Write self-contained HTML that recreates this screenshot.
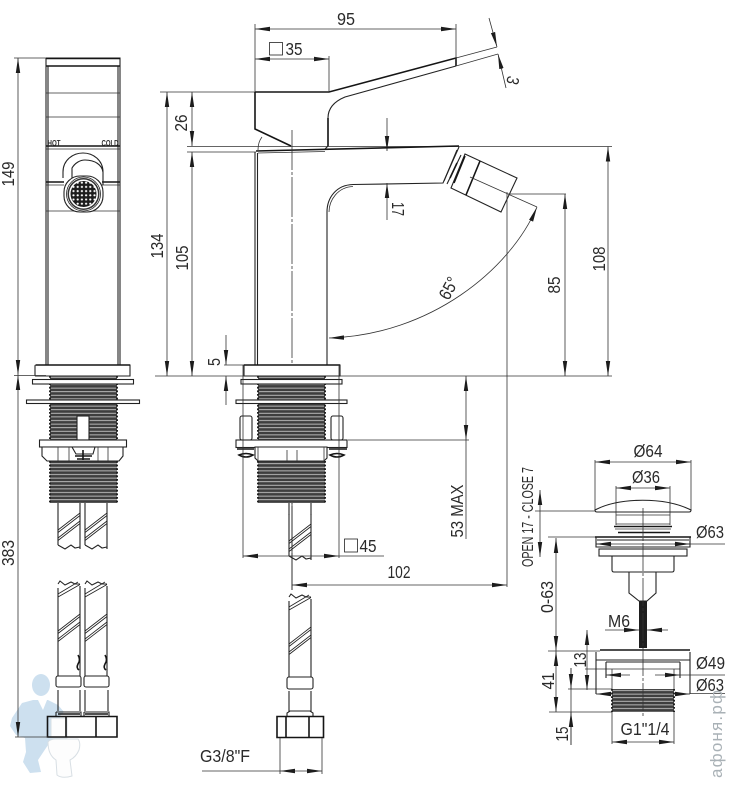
<!DOCTYPE html>
<html><head><meta charset="utf-8"><style>
html,body{margin:0;padding:0;background:#fff;width:731px;height:788px;overflow:hidden}
svg{display:block}
text{font-family:"Liberation Sans",sans-serif;font-size:17.5px;fill:#2a2a2a;text-anchor:middle}
.t{stroke:#333;stroke-width:.8;fill:none}
.d{stroke:#333;stroke-width:.8;fill:none;marker-start:url(#a);marker-end:url(#a)}
.e{stroke:#333;stroke-width:.8;fill:none;marker-end:url(#a)}
.o{stroke:#222;stroke-width:1.1;fill:none}
.k{stroke:#151515;stroke-width:1.6;fill:none}
.w{stroke:#222;stroke-width:1.1;fill:#fff}
.c{stroke:#222;stroke-width:.8;fill:none}
</style></head><body>
<svg width="731" height="788" viewBox="0 0 731 788" xmlns="http://www.w3.org/2000/svg">
<defs>
<marker id="a" markerUnits="userSpaceOnUse" markerWidth="16" markerHeight="6" refX="15" refY="3" orient="auto-start-reverse"><path d="M15 3L0 .8V5.200z" fill="#1c1c1c"/></marker>
<pattern id="th" patternUnits="userSpaceOnUse" width="10" height="3.6"><rect width="10" height="3.6" fill="#3e3e3e"/><rect y="2.500" width="10" height=".8" fill="#d4d4d4"/></pattern>
<pattern id="dots" patternUnits="userSpaceOnUse" width="4.2" height="4.2"><rect width="4.2" height="4.2" fill="#1c1c1c"/><circle cx="2.1" cy="2.1" r="1.1" fill="#fff"/></pattern>
<g id="pu"><path class="o" d="M58 503V545M80 503V549"/><path class="o" d="M58 545L65 549L71 545L75 548L80 547"/><path class="c" d="M58 530L80 513M58 532.500L80 515.500M58 538L80 521M58 540.500L80 523.500"/></g>
<g id="pl"><path class="o" d="M58 588V650M80 586V650"/><path class="o" d="M58 584L60 581L65 585L71 582L75 584L80 584"/><path class="c" d="M58 594L78 582M58 597L80 584.500M58 631L80 614M58 633.500L80 616.500M58 639L80 622M58 641.500L80 624.500"/></g>
</defs>

<!-- mascot -->
<g>
<path fill="#cde0ef" d="M33 700L22 703L12 718L10 726L16 735L25 738L26 752L23 762L30 773L41 772L38 760L48 745L57 738L60 716L64 712L58 705L48 700Z"/>
<ellipse cx="41" cy="685" rx="9" ry="11" fill="#cde0ef"/>
<path d="M37 698L47 700L43 710Z" fill="#fff"/>
<path d="M51 738V718H67V738ZM48 742Q50 739 56 739H78Q81 743 79 750Q76 757 70 760L72 776Q62 779 57 775L56 760Q48 755 48 742Z" fill="#fdfdfd" stroke="#d8dfe4" stroke-width="1"/>
</g>

<!-- LEFT VIEW -->
<path class="o" d="M46 58H120V365M46 58V365M48 66V365M118 66V365" />
<path class="k" d="M46 58.500H120M46 66H120"/>
<path class="t" d="M46 93H120M46 117H120M46 149H120M46 211H120"/>
<path class="k" d="M46 146H120M46 182H64M102 182H120" stroke-width="1.2"/>
<path class="t" d="M46 185H64M102 185H120"/>
<text x="54" y="146" style="font-size:8.500px;font-weight:bold" textLength="13" lengthAdjust="spacingAndGlyphs">HOT</text>
<text x="110" y="146" style="font-size:8.500px;font-weight:bold" textLength="17" lengthAdjust="spacingAndGlyphs">COLD</text>
<path class="o" d="M63 178V172C63 160 73 153 83 153C93 153 103 160 103 172V185"/>
<path class="o" d="M72 178V168C75 163 80 160 85 160C95 160 102 165 103 172"/>
<rect x="64" y="176" width="39" height="36" rx="16" class="w"/>
<circle cx="83.500" cy="194" r="17" class="c"/><circle cx="83.500" cy="194" r="16" fill="#333"/>
<circle cx="83.500" cy="194" r="14.500" fill="#fff"/><circle cx="83.500" cy="194" r="13" fill="url(#dots)"/>

<path class="w" d="M35 366Q35 365 36 365H130V376H36Q35 376 35 375Z"/>
<path class="k" d="M36 365H130" stroke-width="1.600"/>
<rect x="50" y="376" width="67" height="64" fill="url(#th)"/>
<rect x="50" y="461" width="67" height="42" fill="url(#th)"/>
<path d="M50 376V440M117 376V440M50 461V503M117 461V503" stroke="#222" stroke-width="2" stroke-dasharray="1.800 1.800" fill="none"/>
<rect x="32.500" y="379.500" width="101" height="4.500" class="w"/>
<rect x="26.500" y="400" width="113" height="3.500" class="w"/>
<rect x="77" y="416" width="12" height="24" class="w"/>
<rect x="39.500" y="440" width="87" height="7" class="w"/>
<path class="w" d="M42 447H123V456L119 461H47L42 456Z"/>
<path class="t" d="M58 447V461M69 447V461M98 447V461M108 447V461"/>
<path class="w" d="M72 447H95L93 454H76Z"/>
<path class="k" d="M75 456H92M77 459H90M83 450V460" stroke-width="1.300"/>
<use href="#pu"/><use href="#pu" x="27"/>
<use href="#pl"/><use href="#pl" x="27"/>
<path class="o" d="M58 650V676M80 650V676M85 650V676M107 650V676"/>
<path d="M78 655Q81 660 78 664Q76 668 79 670M105 655Q108 660 105 664Q103 668 106 670" class="k" stroke-width="1.200"/>
<rect x="56" y="676" width="25" height="11" rx="2" class="w"/><rect x="84" y="676" width="25" height="11" rx="2" class="w"/>
<path class="o" d="M58 690V711M80 690V711M85 690V711M108 690V711"/>
<path class="o" d="M56 712H81V716M84 712H109V716M56 712V716M84 712V716"/>
<path class="k" d="M58 714H80M85 714H108" stroke-width="1.300"/>
<path class="k" d="M47.500 716.500H117V737H47.500ZM66 716.500V737M96 716.500V737" stroke-width="1.400"/>

<path class="d" d="M18 58V375"/><path class="d" d="M18 375V737"/>
<path class="t" d="M14 58H46M14 375.500H46M15 737H48"/>
<text transform="translate(14,174) rotate(-90)" textLength="25" lengthAdjust="spacingAndGlyphs">149</text>
<text transform="translate(14,553) rotate(-90)" textLength="26" lengthAdjust="spacingAndGlyphs">383</text>

<!-- MIDDLE VIEW base -->
<path class="t" d="M160 92H256M187 146.500H612M187 152H256M155 376H612"/>
<path class="d" d="M167 92V376"/>
<path class="d" d="M192 92V146"/><path class="d" d="M192 152V376"/>
<text transform="translate(163,246) rotate(-90)" textLength="25" lengthAdjust="spacingAndGlyphs">134</text>
<text transform="translate(187,123) rotate(-90)" textLength="17" lengthAdjust="spacingAndGlyphs">26</text>
<text transform="translate(188,258) rotate(-90)" textLength="25" lengthAdjust="spacingAndGlyphs">105</text>
<path class="t" d="M224 365H244"/>
<path class="e" d="M226 335V365"/><path class="e" d="M226 405V376"/>
<text transform="translate(220,362) rotate(-90)" textLength="8" lengthAdjust="spacingAndGlyphs">5</text>

<!-- handle -->
<path class="k" d="M255 92H329L456 58V66M255 92V129L291 146" stroke-width="1.300"/>
<path class="o" d="M456 66L345 97Q328 104 328 118V146L325 149"/>
<path class="k" d="M328 118V146" stroke-width="1.300"/>
<path class="t" d="M258 150Q258 142 262 137"/>
<!-- body -->
<path class="k" d="M256 151L459 146" stroke-width="1.200"/><path class="t" d="M258 153L325 151.500"/>
<path class="o" d="M459 147L443 183L353 184.500C336 185 327 198 327 212V365"/>
<path class="t" d="M329 212C329 200 338 187 353 186.500"/>
<path class="o" d="M255 152V365M257.500 153V365"/>
<!-- aerator -->
<path class="o" d="M457 150L444 181M461 155L447 184"/>
<path class="k" d="M457 163L450 178" stroke-width="2.500"/>
<path class="w" d="M465 154L517 178L501 212L451 188Z"/>
<path class="k" d="M465 156L454 183" stroke-width="2.300"/>
<path class="k" d="M480 161L466 195" stroke-width="1.300"/>
<path class="t" d="M470 177L537 207"/>
<!-- centre -->
<path class="t" d="M292 130V590" stroke-dasharray="40 2 3 2"/>
<!-- top dims -->
<path class="t" d="M255 24V92M456 24V60M329 56V92"/>
<path class="d" d="M255 29H456"/><path class="d" d="M255 59H329"/>
<text x="346" y="25" textLength="18" lengthAdjust="spacingAndGlyphs">95</text>
<rect x="269.500" y="42.500" width="13" height="12.500" class="c"/>
<text x="294" y="55" textLength="17" lengthAdjust="spacingAndGlyphs">35</text>
<path class="t" d="M456 58L497 47M456 66L498 54"/>
<path class="e" d="M489 18L497 47"/><path class="e" d="M506 88L498 54"/>
<text transform="translate(507,79) rotate(104)" textLength="8" lengthAdjust="spacingAndGlyphs">3</text>
<path class="e" d="M387 118V151"/><path class="e" d="M387 220V183"/>
<text transform="translate(392,209) rotate(90)" textLength="14" lengthAdjust="spacingAndGlyphs">17</text>
<!-- right dims -->
<path class="t" d="M508 194H566"/>
<path class="d" d="M565 194V376"/><path class="d" d="M608 146.500V376"/>
<text transform="translate(560,285) rotate(-90)" textLength="17" lengthAdjust="spacingAndGlyphs">85</text>
<text transform="translate(605,259) rotate(-90)" textLength="25" lengthAdjust="spacingAndGlyphs">108</text>
<path class="t" d="M507 192V587"/>
<path class="d" d="M537 207C510 270 430 335 329 338"/>
<text transform="translate(454,291) rotate(-62)" textLength="23" lengthAdjust="spacingAndGlyphs">65°</text>
<path class="d" d="M292 585H507"/>
<text x="399" y="578" textLength="23" lengthAdjust="spacingAndGlyphs">102</text>
<path class="t" d="M348 440H469"/>
<path class="d" d="M466 376V440"/><path class="t" d="M466 440V539"/>
<text transform="translate(463,511) rotate(-90)" textLength="53" lengthAdjust="spacingAndGlyphs">53 MAX</text>

<!-- middle lower assembly -->
<rect x="258" y="376" width="67" height="64" fill="url(#th)"/>
<rect x="258" y="461" width="67" height="42" fill="url(#th)"/>
<path d="M258 376V440M325 376V440M258 461V503M325 461V503" stroke="#222" stroke-width="2" stroke-dasharray="1.800 1.800" fill="none"/>
<path class="w" d="M244 365H340V376H244Z"/><path class="k" d="M244 365H340" stroke-width="1.600"/>
<rect x="241" y="379.500" width="101" height="4.500" class="w"/>
<rect x="236" y="400" width="111" height="3.500" class="w"/>
<rect x="240" y="416" width="12" height="24" rx="2" class="w"/><rect x="331" y="416" width="12" height="24" rx="2" class="w"/>
<rect x="236" y="440" width="111" height="7.500" class="w"/>
<path class="k" d="M237 449H254M329 449H347" stroke-width="2"/>
<path class="w" d="M255 447H327V458L324 461H258L255 458Z"/>
<path class="t" d="M287 450V461M297 450V461M258 447V461M324 447V461"/>
<path class="k" d="M239 455Q246 452 253 455Q246 459 239 455ZM330 455Q337 452 344 455Q337 459 330 455Z" stroke-width="1.200"/>
<use href="#pu" x="231" y="11"/>
<path class="o" d="M289 503V515M311 503V515"/>
<use href="#pl" x="231" y="13"/>
<path class="o" d="M289 663V677M311 663V677"/>
<rect x="287" y="677" width="26" height="12" rx="2" class="w"/>
<path class="o" d="M289 691V712M311 691V712"/>
<path class="w" d="M287 716V713L290 711H310L313 713V716"/>
<path class="k" d="M277 716.500H323.500V737.500H277ZM286 716.500V737.500M309 716.500V737.500" stroke-width="1.500"/>
<path class="c" d="M292 503V590"/>
<path class="t" d="M243 376V558M339 376V558M243 365V376M339 365V376"/>
<path class="d" d="M243 556H339"/><path class="t" d="M339 556H384"/>
<rect x="344.500" y="539" width="13" height="13" class="c"/>
<text x="368" y="552" textLength="17" lengthAdjust="spacingAndGlyphs">45</text>
<path class="t" d="M280 738V774M322 738V774M202 771H280"/>
<path class="d" d="M280 771H322"/>
<text x="225" y="762" textLength="50" lengthAdjust="spacingAndGlyphs">G3/8"F</text>

<!-- DRAIN -->
<path class="t" d="M595 460V511M691 460V511M616 486V525M670 486V525"/>
<path class="d" d="M595 462H691"/><path class="d" d="M616 488H670"/>
<text x="648" y="457" textLength="29" lengthAdjust="spacingAndGlyphs">Ø64</text>
<text x="646" y="483" textLength="28" lengthAdjust="spacingAndGlyphs">Ø36</text>
<path class="o" d="M595 510C620 497 665 497 691 510Q691 512 689 512H597Q595 512 595 510Z"/>
<path class="t" d="M535 511H595"/>
<path class="t" d="M616 515H670M616 524H670"/>
<path class="k" d="M614 526.500H672" stroke-width="1.400"/><path class="t" d="M615 529H671"/><path class="k" d="M618 532.500H670" stroke-width="1.300"/>
<path class="k" d="M595 537H691" stroke-width="1.300"/>
<path class="t" d="M548 537H595"/>
<path class="o" d="M596 537V547H690V537M597 540H689"/>
<path class="t" d="M596 544H725"/>
<path class="e" d="M612 544H596"/><path class="e" d="M674 544H690"/>
<text x="710" y="538" textLength="28" lengthAdjust="spacingAndGlyphs">Ø63</text>
<rect x="599" y="549" width="88" height="7" class="w"/>
<path class="o" d="M612 556V570Q612 572 614 572H672Q674 572 674 570V556"/>
<path class="o" d="M629 572V593L639 601H647L656 593V572"/>
<rect x="639" y="601" width="8" height="47" fill="#1e1e1e"/>
<path class="d" d="M540 490V557"/>
<text transform="translate(533,517) rotate(-90)" style="font-size:16px" textLength="100" lengthAdjust="spacingAndGlyphs">OPEN 17 - CLOSE 7</text>
<path class="d" d="M556 538V651"/><path class="d" d="M556 651V712"/>
<text transform="translate(553,597) rotate(-90)" textLength="32" lengthAdjust="spacingAndGlyphs">0-63</text>
<text transform="translate(554,681) rotate(-90)" textLength="17" lengthAdjust="spacingAndGlyphs">41</text>
<path class="e" d="M605 630H639"/><path class="e" d="M668 630H647"/>
<text x="619" y="627" textLength="22" lengthAdjust="spacingAndGlyphs">M6</text>
<path class="t" d="M548 651H600M549 712H612M568 689H612M585 669H680"/>
<path class="k" d="M600 650H690" stroke-width="2.200"/>
<path class="o" d="M596 660H690M596 652V694M690 652V694M606 662H680M606 662V678M680 662V678"/>
<path class="t" d="M612 669V689M674 669V689"/>
<rect x="612" y="689" width="62" height="23" fill="url(#th)"/>
<path d="M612 689V712M674 689V712" stroke="#222" stroke-width="2" stroke-dasharray="1.800 1.800" fill="none"/>
<path class="t" d="M643 508V717" stroke-dasharray="28 2 3 2"/>
<path class="e" d="M630 675H606"/><path class="e" d="M655 675H680"/><path class="t" d="M680 675H725"/>
<text x="710.500" y="669" textLength="29" lengthAdjust="spacingAndGlyphs">Ø49</text>
<path class="e" d="M612 694H596"/><path class="e" d="M676 694H690"/><path class="t" d="M690 693.500H725"/>
<text x="710" y="691" textLength="28" lengthAdjust="spacingAndGlyphs">Ø63</text>
<path class="d" d="M587 630V690"/>
<text transform="translate(586,660) rotate(-90)" textLength="15" lengthAdjust="spacingAndGlyphs">13</text>
<path class="t" d="M571 668V745"/>
<text transform="translate(568,734) rotate(-90)" textLength="15" lengthAdjust="spacingAndGlyphs">15</text>
<path class="e" d="M571 668V689"/><path class="e" d="M571 745V712"/>
<path class="t" d="M612 712V744M674 712V744"/>
<path class="d" d="M612 742H674"/>
<text x="645" y="735" textLength="49" lengthAdjust="spacingAndGlyphs">G1"1/4</text>

<!-- watermark -->
<text transform="translate(722,734) rotate(-90)" style="font-size:17px;fill:#a9b1b6" textLength="88" lengthAdjust="spacing">афоня.рф</text>
</svg>
</body></html>
